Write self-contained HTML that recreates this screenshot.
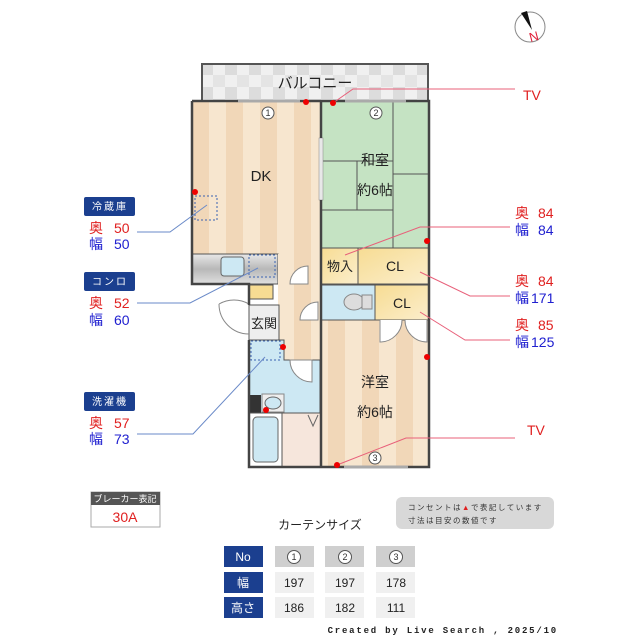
<!DOCTYPE html>
<html><head><meta charset="utf-8"><style>
html,body{margin:0;padding:0;background:#fff;}
svg{display:block;font-family:"Liberation Sans","Noto Sans CJK JP",sans-serif;}
</style></head><body>
<svg width="640" height="640" viewBox="0 0 640 640" xmlns="http://www.w3.org/2000/svg">
<defs>
<pattern id="wood" x="192" y="0" width="34" height="10" patternUnits="userSpaceOnUse">
<rect width="34" height="10" fill="#f7e6cf"/><rect width="17" height="10" fill="#f1d7b8"/></pattern>
<pattern id="chk" x="201" y="63" width="24" height="24" patternUnits="userSpaceOnUse">
<rect width="24" height="24" fill="#f0f0f0"/><rect width="12" height="12" fill="#dcdcdc"/><rect x="12" y="12" width="12" height="12" fill="#e4e4e4"/></pattern>
<linearGradient id="clg" x1="0" y1="0" x2="1" y2="1"><stop offset="0" stop-color="#f7dc93"/><stop offset="1" stop-color="#fbeecc"/></linearGradient>
<linearGradient id="cnt" x1="0" y1="0" x2="0" y2="1"><stop offset="0" stop-color="#e8e8e8"/><stop offset="0.5" stop-color="#b8b8b8"/><stop offset="1" stop-color="#e0e0e0"/></linearGradient>
</defs>

<!-- compass -->
<circle cx="530" cy="27" r="15" fill="#fff" stroke="#888" stroke-width="1"/>
<polygon points="521,13 527,11 532,30" fill="#111"/>
<text x="534" y="41" font-size="13" fill="#e0203a" text-anchor="middle" transform="rotate(-15 534 37)">N</text>

<!-- balcony -->
<rect x="202" y="64" width="226" height="38" fill="url(#chk)" stroke="#555" stroke-width="2"/>
<text x="315" y="88" font-size="15" text-anchor="middle" fill="#222">バルコニー</text>

<!-- rooms -->
<rect x="192" y="101" width="129" height="153" fill="url(#wood)"/>
<rect x="321" y="101" width="108" height="147" fill="#c5e3c3"/>
<g stroke="#555" stroke-width="1" fill="none">
<line x1="321" y1="161" x2="393" y2="161"/>
<line x1="393" y1="101" x2="393" y2="248"/>
<line x1="357" y1="161" x2="357" y2="210"/>
<line x1="393" y1="174" x2="429" y2="174"/>
<line x1="321" y1="210" x2="393" y2="210"/>
</g>
<rect x="319" y="138" width="4" height="62" fill="#e8e8e8" stroke="#888" stroke-width="0.5"/>
<text x="375" y="165" font-size="14" text-anchor="middle" fill="#222">和室</text>
<text x="375" y="195" font-size="14" text-anchor="middle" fill="#222">約6帖</text>
<text x="261" y="181" font-size="15" text-anchor="middle" fill="#222">DK</text>

<!-- closets -->
<rect x="321" y="248" width="37" height="36" fill="url(#clg)" stroke="#555"/>
<rect x="358" y="248" width="71" height="36" fill="url(#clg)" stroke="#555"/>
<text x="340" y="271" font-size="13" text-anchor="middle" fill="#222">物入</text>
<text x="395" y="271" font-size="14" text-anchor="middle" fill="#222">CL</text>
<rect x="321" y="285" width="54" height="35" fill="#cde8f3" stroke="#555"/>
<ellipse cx="354" cy="302" rx="10" ry="8" fill="#ddd" stroke="#888"/>
<rect x="362" y="295" width="10" height="14" fill="#ddd" stroke="#888"/>
<rect x="375" y="285" width="54" height="35" fill="url(#clg)" stroke="#555"/>
<text x="402" y="308" font-size="14" text-anchor="middle" fill="#222">CL</text>

<!-- kitchen -->
<rect x="192" y="254" width="86" height="30" fill="url(#cnt)" stroke="#555"/>
<rect x="221" y="257" width="23" height="19" rx="3" fill="#cde8f3" stroke="#666"/>
<rect x="278" y="254" width="43" height="106" fill="url(#wood)"/>
<path d="M290,284 A18,18 0 0 1 308,266 L308,284 Z" fill="#fff" stroke="#888"/>
<path d="M300,320 A18,18 0 0 1 318,302 L318,320 Z" fill="#fff" stroke="#888"/>

<!-- western room -->
<rect x="321" y="320" width="108" height="147" fill="url(#wood)" stroke="#555"/>
<path d="M380,320 L380,342 A22,22 0 0 0 402,320" fill="#fff" stroke="#888"/>
<path d="M427,320 L427,342 A22,22 0 0 1 405,320" fill="#fff" stroke="#888"/>
<text x="375" y="387" font-size="14" text-anchor="middle" fill="#222">洋室</text>
<text x="375" y="417" font-size="14" text-anchor="middle" fill="#222">約6帖</text>

<!-- entry / wash / bath -->
<rect x="249" y="285" width="24" height="14" fill="#f7dc93" stroke="#555"/>
<rect x="249" y="305" width="30" height="35" fill="#eee" stroke="#555"/>
<text x="264" y="328" font-size="13" text-anchor="middle" fill="#222">玄関</text>
<path d="M249,304 A30,30 0 0 0 219,304" fill="none" stroke="#888"/>
<path d="M219,304 A30,30 0 0 0 249,334" fill="#fff" stroke="#888"/>
<path d="M249,340 L284,340 L284,360 L320,360 L320,413 L249,413 Z" fill="#cde8f3" stroke="#555"/>
<path d="M290,360 A22,22 0 0 0 312,382 L312,360 Z" fill="#fff" stroke="#888"/>
<rect x="249" y="395" width="12" height="18" fill="#333"/>
<rect x="262" y="394" width="22" height="18" fill="#eee" stroke="#888"/>
<ellipse cx="273" cy="403" rx="8" ry="6" fill="#cde8f3" stroke="#666"/>
<rect x="249" y="413" width="33" height="54" fill="#fff" stroke="#555"/>
<rect x="253" y="417" width="25" height="45" rx="4" fill="#cde8f3" stroke="#666"/>
<rect x="282" y="413" width="39" height="54" fill="#f6e6dc" stroke="#555"/>
<path d="M308,415 L313,426 L318,415" fill="none" stroke="#666"/>

<!-- outer walls -->
<g stroke="#444" stroke-width="2.5" fill="none">
<path d="M192,101 L429,101 L429,467 L249,467 L249,340"/>
<path d="M192,101 L192,284 L249,284 L249,305"/>
<line x1="321" y1="101" x2="321" y2="138"/>
<line x1="321" y1="200" x2="321" y2="467"/>
</g>
<g stroke="#aaa" stroke-width="3">
<line x1="238" y1="101" x2="300" y2="101"/><line x1="345" y1="101" x2="406" y2="101"/>
<line x1="344" y1="467" x2="408" y2="467"/>
</g>
<g font-size="9" text-anchor="middle" fill="#333">
<circle cx="268" cy="113" r="6" fill="#fff" stroke="#555"/><text x="268" y="116">1</text>
<circle cx="376" cy="113" r="6" fill="#fff" stroke="#555"/><text x="376" y="116">2</text>
<circle cx="375" cy="458" r="6" fill="#fff" stroke="#555"/><text x="375" y="461">3</text>
</g>

<!-- dashed boxes -->
<g fill="none" stroke="#3a62b0" stroke-dasharray="2,2">
<rect x="195" y="196" width="22" height="24"/>
<rect x="249" y="255" width="26" height="22"/>
<rect x="251" y="341" width="29" height="19"/>
</g>

<!-- leader lines -->
<g fill="none" stroke="#6a8ac8" stroke-width="1">
<polyline points="137,232 170,232 207,205"/>
<polyline points="137,303 190,303 258,268"/>
<polyline points="137,434 193,434 265,357"/>
</g>
<g fill="none" stroke="#e8607a" stroke-width="1">
<polyline points="515,89 353,89 333,103"/>
<polyline points="510,227 420,227 345,255"/>
<polyline points="420,272 470,296 510,296"/>
<polyline points="420,312 465,340 510,340"/>
<polyline points="337,465 406,438 515,438"/>
</g>
<g fill="#e00">
<circle cx="306" cy="102" r="3"/><circle cx="333" cy="103" r="3"/>
<circle cx="195" cy="192" r="3"/><circle cx="427" cy="241" r="3"/>
<circle cx="427" cy="357" r="3"/><circle cx="283" cy="347" r="3"/>
<circle cx="266" cy="410" r="3"/><circle cx="337" cy="465" r="3"/>
</g>

<!-- left labels -->
<g font-size="10" fill="#fff" text-anchor="middle" letter-spacing="2">
<rect x="84" y="197" width="51" height="19" rx="2" fill="#1b3f8f"/><text x="110" y="210">冷蔵庫</text>
<rect x="84" y="272" width="51" height="19" rx="2" fill="#1b3f8f"/><text x="110" y="285">コンロ</text>
<rect x="84" y="392" width="51" height="19" rx="2" fill="#1b3f8f"/><text x="110" y="405">洗濯機</text>
</g>
<g font-size="14">
<text x="89" y="233" fill="#e02020">奥</text><text x="114" y="233" fill="#e02020">50</text>
<text x="89" y="249" fill="#2020d0">幅</text><text x="114" y="249" fill="#2020d0">50</text>
<text x="89" y="308" fill="#e02020">奥</text><text x="114" y="308" fill="#e02020">52</text>
<text x="89" y="325" fill="#2020d0">幅</text><text x="114" y="325" fill="#2020d0">60</text>
<text x="89" y="428" fill="#e02020">奥</text><text x="114" y="428" fill="#e02020">57</text>
<text x="89" y="444" fill="#2020d0">幅</text><text x="114" y="444" fill="#2020d0">73</text>
</g>

<!-- right labels -->
<g font-size="14">
<text x="523" y="100" fill="#e02020">TV</text>
<text x="515" y="218" fill="#e02020">奥</text><text x="538" y="218" fill="#e02020">84</text>
<text x="515" y="235" fill="#2020d0">幅</text><text x="538" y="235" fill="#2020d0">84</text>
<text x="515" y="286" fill="#e02020">奥</text><text x="538" y="286" fill="#e02020">84</text>
<text x="515" y="303" fill="#2020d0">幅</text><text x="531" y="303" fill="#2020d0">171</text>
<text x="515" y="330" fill="#e02020">奥</text><text x="538" y="330" fill="#e02020">85</text>
<text x="515" y="347" fill="#2020d0">幅</text><text x="531" y="347" fill="#2020d0">125</text>
<text x="527" y="435" fill="#e02020">TV</text>
</g>

<!-- breaker -->
<rect x="91" y="492" width="69" height="35" fill="#fff" stroke="#aaa"/>
<rect x="91" y="492" width="69" height="13" fill="#555"/>
<text x="125" y="502" font-size="9" fill="#fff" text-anchor="middle">ブレーカー表記</text>
<text x="125" y="522" font-size="14" fill="#e02020" text-anchor="middle">30A</text>

<!-- note -->
<rect x="396" y="497" width="158" height="32" rx="6" fill="#d8d8d8"/>
<text x="408" y="510" font-size="7.5" fill="#333" letter-spacing="1.5">コンセントは<tspan fill="#e02020">▲</tspan>で表記しています</text>
<text x="408" y="523" font-size="7.5" fill="#333" letter-spacing="1.5">寸法は目安の数値です</text>

<text x="320" y="529" font-size="12" text-anchor="middle" fill="#222">カーテンサイズ</text>

<!-- table -->
<g font-size="12" text-anchor="middle">
<rect x="224" y="546" width="39" height="21" fill="#1b3f8f"/><text x="243" y="561" fill="#fff">No</text>
<rect x="224" y="572" width="39" height="21" fill="#1b3f8f"/><text x="243" y="587" fill="#fff">幅</text>
<rect x="224" y="597" width="39" height="21" fill="#1b3f8f"/><text x="243" y="612" fill="#fff">高さ</text>
<rect x="275" y="546" width="39" height="21" fill="#cfcfcf"/>
<rect x="325" y="546" width="39" height="21" fill="#cfcfcf"/>
<rect x="376" y="546" width="39" height="21" fill="#cfcfcf"/>
<g fill="#fff" stroke="#555"><circle cx="294" cy="557" r="6.5"/><circle cx="345" cy="557" r="6.5"/><circle cx="396" cy="557" r="6.5"/></g>
<g font-size="9" fill="#333"><text x="294" y="560">1</text><text x="345" y="560">2</text><text x="396" y="560">3</text></g>
<rect x="275" y="572" width="39" height="21" fill="#f0f0f0"/><text x="294" y="587" fill="#222">197</text>
<rect x="325" y="572" width="39" height="21" fill="#f0f0f0"/><text x="345" y="587" fill="#222">197</text>
<rect x="376" y="572" width="39" height="21" fill="#f0f0f0"/><text x="396" y="587" fill="#222">178</text>
<rect x="275" y="597" width="39" height="21" fill="#f0f0f0"/><text x="294" y="612" fill="#222">186</text>
<rect x="325" y="597" width="39" height="21" fill="#f0f0f0"/><text x="345" y="612" fill="#222">182</text>
<rect x="376" y="597" width="39" height="21" fill="#f0f0f0"/><text x="396" y="612" fill="#222">111</text>
</g>
<text x="558" y="633" font-size="9" fill="#222" text-anchor="end" letter-spacing="1.8" font-family="Liberation Mono, monospace" font-weight="bold">Created by Live Search , 2025/10</text>
</svg>
</body></html>
